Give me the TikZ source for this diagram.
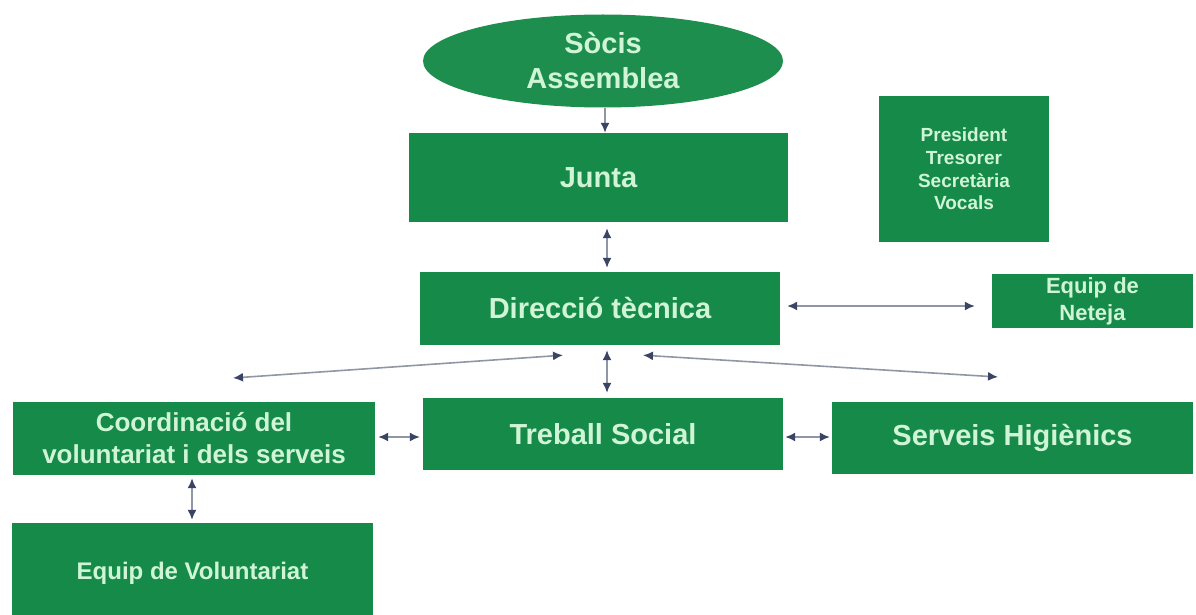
\documentclass[tikz,border=0pt]{standalone}
\usepackage{fontspec}
\setmainfont{Liberation Sans}
\usetikzlibrary{shapes.geometric, arrows.meta, positioning}
\definecolor{boxgreen}{RGB}{22,138,72}
\definecolor{ovalgreen}{RGB}{30,142,78}
\definecolor{labelmint}{RGB}{208,245,214}
\definecolor{linkgray}{RGB}{145,150,165}
\definecolor{tipnavy}{RGB}{58,68,100}
\tikzset{
  unit/.style={rectangle, fill=boxgreen, text=labelmint, inner sep=0pt, align=center},
  big/.style={font=\bfseries\fontsize{29}{35}\selectfont},
  link/.style={draw=linkgray, line width=1.6pt,
    {Latex[length=10pt,width=9pt,color=tipnavy]}-{Latex[length=10pt,width=9pt,color=tipnavy]}},
  onelink/.style={draw=linkgray, line width=1.6pt, -{Latex[length=10pt,width=9pt,color=tipnavy]}},
}

\begin{document}
\begin{tikzpicture}[x=1pt, y=1pt]
  \useasboundingbox (0,0) rectangle (1196,-615);

  % units
  \node[ellipse, fill=ovalgreen, text=labelmint, inner sep=0pt, align=center, big,
        minimum width=360pt, minimum height=93pt] (socis) at (603,-61) {Sòcis\\Assemblea};
  \node[unit, big, minimum width=379pt, minimum height=89pt] (junta) at (598.5,-177.5) {Junta};
  \node[unit, big, minimum width=360pt, minimum height=73pt] (direccio) at (600,-308.5) {Direcció tècnica};
  \node[unit, font=\bfseries\fontsize{19}{22.7}\selectfont,
        minimum width=170pt, minimum height=146pt] (carrecs) at (964,-169) {President\\Tresorer\\Secretària\\Vocals};
  \node[unit, font=\bfseries\fontsize{22}{27}\selectfont,
        minimum width=201pt, minimum height=54pt] (neteja) at (1092.5,-301) {Equip de\\Neteja};
  \node[unit, font=\bfseries\fontsize{26}{32}\selectfont,
        minimum width=362pt, minimum height=73pt] (coord) at (194,-438.5) {Coordinació del\\voluntariat i dels serveis};
  \node[unit, big, minimum width=360pt, minimum height=72pt] (treball) at (603,-434) {Treball Social};
  \node[unit, big, minimum width=361pt, minimum height=72pt] (serveis) at (1012.5,-438) {Serveis Higiènics};
  \node[unit, font=\bfseries\fontsize{24}{29}\selectfont,
        minimum width=361pt, minimum height=100pt] (voluntariat) at (192.5,-573) {Equip de Voluntariat};

  % free ends
  \coordinate (dirleft) at ([xshift=-37pt,yshift=-10pt]direccio.south);
  \coordinate (dirright) at ([xshift=43pt,yshift=-10pt]direccio.south);
  \coordinate (coordtop) at (233,-378);
  \coordinate (serveistop) at (998,-377);

  % links
  \draw[onelink] ([xshift=2pt]socis.south) -- ([xshift=2pt]socis.south |- junta.north);
  \draw[link, shorten <=6pt, shorten >=4pt] ([xshift=7pt]direccio.north |- junta.south) -- ([xshift=7pt]direccio.north);
  \draw[link, shorten <=5pt, shorten >=5pt] ([xshift=7pt]direccio.south) -- ([xshift=7pt]direccio.south |- treball.north);
  \draw[link, shorten <=7pt, shorten >=17pt] ([yshift=2.5pt]direccio.east) -- ([yshift=2.5pt]direccio.east -| neteja.west);
  \draw[link, shorten <=3pt, shorten >=3pt] ([yshift=1.5pt]coord.east) -- ([yshift=1.5pt]coord.east -| treball.west);
  \draw[link, shorten <=2pt, shorten >=2pt] ([yshift=-3pt]treball.east) -- ([yshift=-3pt]treball.east -| serveis.west);
  \draw[link, shorten <=3pt, shorten >=3pt] ([xshift=-2pt]coord.south) -- ([xshift=-2pt]coord.south |- voluntariat.north);
  \draw[link] (dirleft) -- (coordtop);
  \draw[link] (dirright) -- (serveistop);
\end{tikzpicture}
\end{document}
